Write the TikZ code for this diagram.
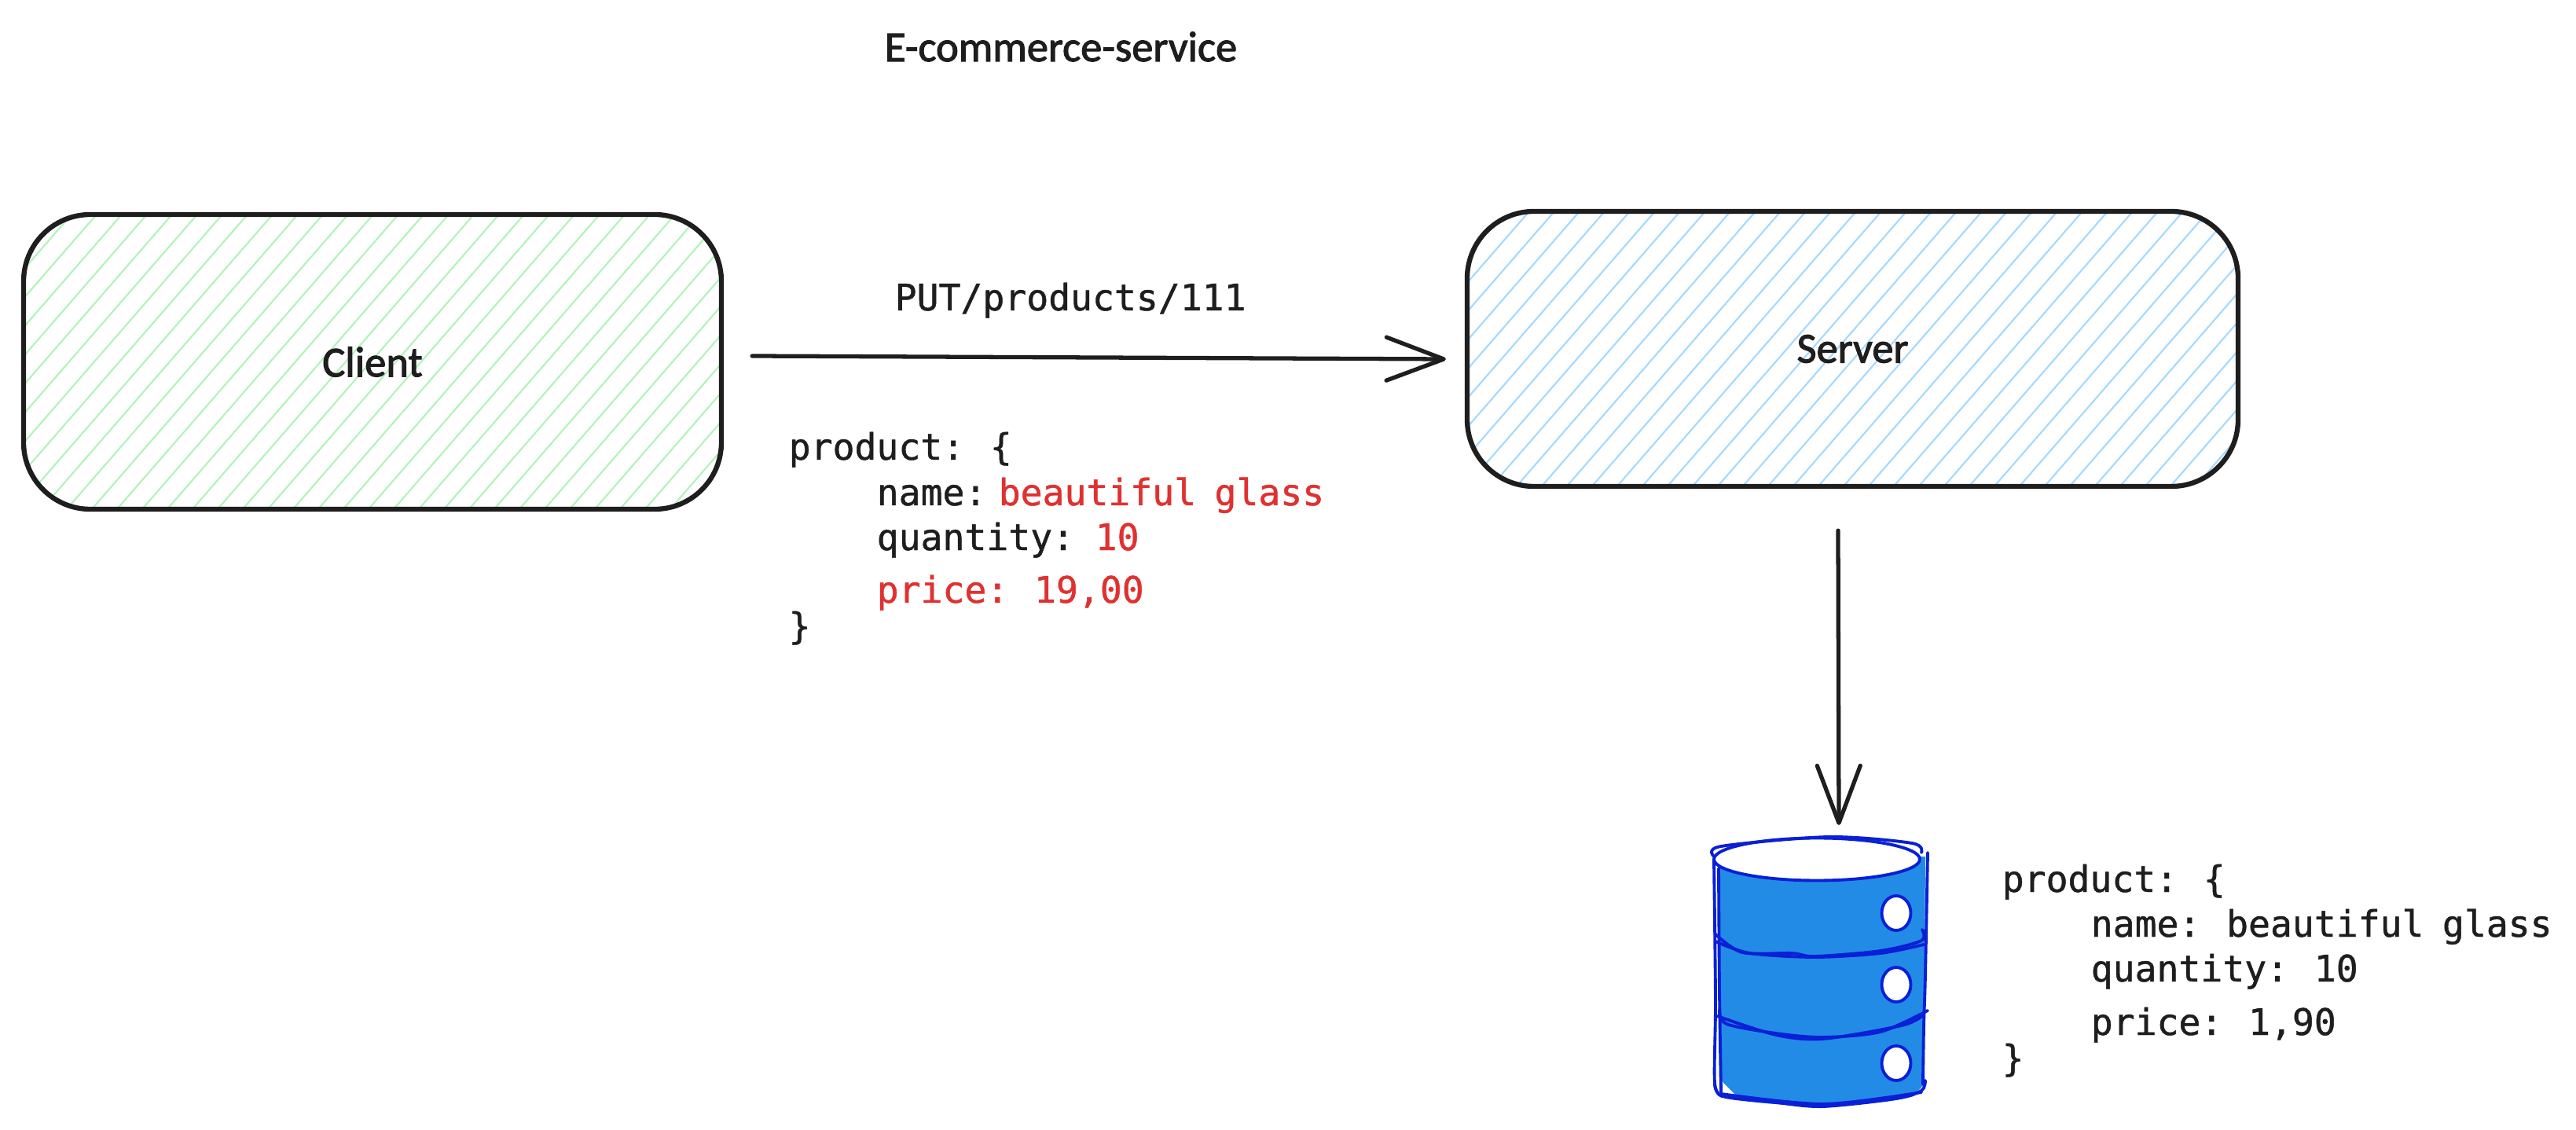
\documentclass[tikz,border=0pt]{standalone}
\usepackage{fontspec}
\newfontfamily\handfont[FakeBold=2]{Carlito}
\newfontfamily\codefont[FakeBold=1, WordSpace=0.84]{DejaVu Sans Mono}
\usetikzlibrary{arrows.meta}

\definecolor{inkblack}{HTML}{1E1E1E}
\definecolor{inkred}{HTML}{E03131}
\definecolor{hatchgreen}{HTML}{B2F2BB}
\definecolor{hatchblue}{HTML}{A5D8FF}
\definecolor{dbfill}{HTML}{228BE6}
\definecolor{dbline}{HTML}{0A1FD6}

\tikzset{
	handtext/.style={text=inkblack, font=\handfont\fontsize{15.5}{18}\selectfont},
	hatchbox/.style 2 args={draw=inkblack, line width=1.8pt, rounded corners=0.85cm, inner sep=0pt, handtext,
		path picture={
			\foreach \s in {-22,...,22}
				\draw[#1, line width=0.6pt] ({0.32*\s+#2-4/1.15}, -4) -- ({0.32*\s+#2+4/1.15}, 4);
		}},
	flowarrow/.style={-{Straight Barb[length=7.3mm, width=5.5mm, round]}, inkblack, line width=1.5pt, line cap=round},
	codetext/.style={anchor=base west, inner sep=0pt, text=inkblack, font=\codefont\fontsize{13.2}{16}\selectfont},
	redtext/.style={codetext, text=inkred},
	dbstroke/.style={dbline, line width=1.1pt, line cap=round, line join=round}
}

\begin{document}
\begin{tikzpicture}
	\useasboundingbox (0, 0) rectangle (32.78, -14.38);

	\node[anchor=base, handtext] (title) at (13.50, -0.78) {E-commerce-service};

	\node[hatchbox={hatchgreen}{0.133}, minimum width=8.88cm, minimum height=3.75cm] (client) at (4.74, -4.605) {Client};
	\node[hatchbox={hatchblue}{0.04}, minimum width=9.81cm, minimum height=3.50cm] (server) at (23.575, -4.44) {Server};

	\draw[flowarrow] ([shift={(0.36, 0.075)}]client.east) -- ([shift={(-0.24, -0.13)}]server.west);
	\node[codetext] (route) at (11.38, -3.95) {PUT/products/111};

	\node[codetext] (reqopen) at (10.03, -5.85) {product: \{};
	\node[codetext] (reqname) at (11.15, -6.43) {name:};
	\node[redtext] (reqnameval) at (12.70, -6.43) {beautiful glass};
	\node[codetext] (reqqty) at (11.15, -7.00) {quantity:};
	\node[redtext] (reqqtyval) at (13.93, -7.00) {10};
	\node[redtext] (reqprice) at (11.15, -7.67) {price: 19,00};
	\node[codetext] (reqclose) at (10.03, -8.13) {\}};

	\coordinate (dbtop) at (23.40, -10.50);
	\draw[flowarrow] ([shift={(-0.185, -0.53)}]server.south) -- (dbtop);

	\fill[dbfill] (21.88, -10.95) -- (21.90, -13.75) -- (22.15, -14.00) .. controls (22.60, -14.08) and (23.70, -14.12) .. (24.35, -13.95) -- (24.48, -13.80) -- (24.50, -10.90) -- cycle;
	\filldraw[dbstroke, fill=white] (23.12, -10.935) ellipse (1.31 and 0.27);
	\draw[dbstroke] plot [smooth] coordinates {(21.81, -10.90) (21.90, -10.77) (23.27, -10.65) (24.33, -10.73) (24.45, -10.85)};
	\draw[dbstroke] plot [smooth] coordinates {(21.81, -10.93) (21.83, -12.73) (21.82, -13.78) (21.92, -13.95)};
	\draw[dbstroke] plot [smooth] coordinates {(21.87, -11.05) (21.88, -12.60) (21.90, -13.90)};
	\draw[dbstroke] plot [smooth] coordinates {(24.53, -10.85) (24.50, -12.40) (24.48, -13.07) (24.47, -13.80)};
	\foreach \y in {-11.62, -12.53, -13.53}
		\filldraw[dbstroke, fill=white] (24.13, \y) ellipse (0.185 and 0.22);
	\draw[dbstroke] plot [smooth] coordinates {(21.82, -11.88) (22.17, -12.12) (22.80, -12.13) (23.10, -12.17) (23.93, -12.10) (24.45, -11.97) (24.46, -11.83)};
	\draw[dbstroke] plot [smooth] coordinates {(21.83, -11.98) (22.27, -12.13) (23.10, -12.18) (23.93, -12.13) (24.48, -12.02)};
	\draw[dbstroke] plot [smooth] coordinates {(21.88, -12.85) (21.97, -13.03) (22.60, -13.15) (23.20, -13.20) (23.93, -13.13) (24.53, -12.86)};
	\draw[dbstroke] plot [smooth] coordinates {(21.85, -12.93) (22.60, -13.17) (23.20, -13.22) (24.20, -13.05) (24.47, -12.92)};
	\draw[dbstroke] plot [smooth] coordinates {(21.82, -13.78) (21.92, -13.95) (22.60, -14.03) (23.20, -14.08) (24.13, -13.98) (24.45, -13.88) (24.50, -13.75)};
	\draw[dbstroke] plot [smooth] coordinates {(21.90, -13.92) (23.20, -14.05) (24.45, -13.90)};

	\node[codetext] (dbopen) at (25.47, -11.35) {product: \{};
	\node[codetext] (dbname) at (26.60, -11.92) {name: beautiful glass};
	\node[codetext] (dbqty) at (26.60, -12.49) {quantity: 10};
	\node[codetext] (dbprice) at (26.60, -13.17) {price: 1,90};
	\node[codetext] (dbclose) at (25.47, -13.63) {\}};
\end{tikzpicture}
\end{document}
